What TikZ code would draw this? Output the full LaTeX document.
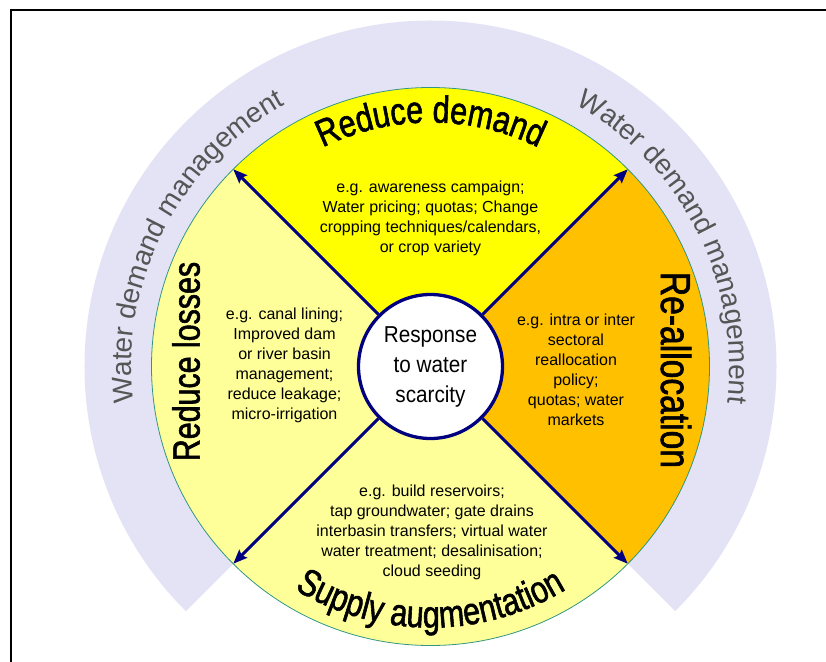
\documentclass[tikz,border=0pt]{standalone}
\usepackage{fontspec}
\setmainfont{Liberation Sans}
\newfontfamily\headfont[FakeStretch=0.8,FakeBold=1.5]{Liberation Sans}
\newfontfamily\centfont[FakeStretch=0.9]{Liberation Sans}
\usepackage{tikz}
\usetikzlibrary{arrows.meta}
\usetikzlibrary{decorations.text}
\usetikzlibrary{positioning}
\definecolor{demandyellow}{RGB}{255,255,0}
\definecolor{paleyellow}{RGB}{255,255,153}
\definecolor{realloccol}{RGB}{255,192,0}
\definecolor{ringcol}{RGB}{227,227,245}
\definecolor{wdmgrey}{RGB}{85,85,85}
\definecolor{spokeblue}{RGB}{0,0,128}
\definecolor{rimcol}{RGB}{50,150,130}
\tikzstyle{spoke} = [line width=3pt,spokeblue,-{Stealth[length=14pt,width=11pt,inset=2pt]}]
\tikzstyle{example} = [align=center,font=\fontsize{16}{20}\selectfont]
\tikzstyle{heading} = [inner sep=0pt,font=\headfont\fontsize{38}{40}\selectfont]

\begin{document}
\begin{tikzpicture}[x=1pt,y=1pt]
    \useasboundingbox (-430.5,-294.5) rectangle (395.5,366.5);
    \draw[line width=2pt] (-419.5,-300) -- (-419.5,356.5) -- (400,356.5);
    % outer band
    \fill[ringcol] (-45:279pt) -- (-45:346pt) arc (-45:225:346pt) -- (225:279pt) arc (225:-45:279pt) -- cycle;
    % the four parts
    \fill[realloccol] (0,0) -- (-45:279pt) arc (-45:45:279pt) -- cycle;
    \fill[demandyellow] (0,0) -- (45:279pt) arc (45:135:279pt) -- cycle;
    \fill[paleyellow] (0,0) -- (135:279pt) arc (135:315:279pt) -- cycle;
    \draw[rimcol, line width=0.8pt] (0,0) circle (279pt);
    \coordinate (ne) at (45:279pt);
    \coordinate (nw) at (135:279pt);
    \coordinate (sw) at (225:279pt);
    \coordinate (se) at (315:279pt);
    \node[circle, draw=spokeblue, line width=3.3pt, fill=white, minimum size=144pt, inner sep=0pt, align=center, font=\centfont\fontsize{23}{30}\selectfont] (resp) at (0,0) {Response\\to water\\scarcity};
    \draw[spoke] (resp) -- (ne);
    \draw[spoke] (resp) -- (nw);
    \draw[spoke] (resp) -- (sw);
    \draw[spoke] (resp) -- (se);
    % headings
    \path[decorate, decoration={text along path, text align=center, text={|\headfont\fontsize{38}{40}\selectfont|Reduce demand}}] (150:244pt) arc (150:30:244pt);
    \path[decorate, decoration={text along path, text align=center, text={|\headfont\fontsize{38}{40}\selectfont|Supply augmentation}}] (205:261pt) arc (205:335:261pt);
    \node[heading, rotate=90] (losses) at (-244.5,5) {Reduce losses};
    \node[heading, rotate=-90, font=\headfont\fontsize{42}{44}\selectfont] (realloc) at (245.5,-3.5) {Re-allocation};
    % band labels
    \path[decorate, decoration={text along path, text align=center, text={|\color{wdmgrey}\fontsize{28}{32}\selectfont|Water demand management}}] (190:299pt) arc (190:116:299pt);
    \path[decorate, decoration={text along path, text align=center, text={|\color{wdmgrey}\fontsize{28}{32}\selectfont|Water demand management}}] (64:299pt) arc (64:-10:299pt);
    % examples
    \node[example] (demandtxt) at (0,148.5) {e.g. awareness campaign;\\Water pricing; quotas; Change\\cropping techniques/calendars,\\or crop variety};
    \node[example] (lossestxt) at (-146,1.5) {e.g. canal lining;\\Improved dam\\or river basin\\management;\\reduce leakage;\\micro-irrigation};
    \node[example] (realloctxt) at (145.5,-3.5) {e.g. intra or inter\\sectoral\\reallocation\\policy;\\quotas; water\\markets};
    \node[example] (supplytxt) at (1.5,-166) {e.g. build reservoirs;\\tap groundwater; gate drains\\interbasin transfers; virtual water\\water treatment; desalinisation;\\cloud seeding};
\end{tikzpicture}
\end{document}
